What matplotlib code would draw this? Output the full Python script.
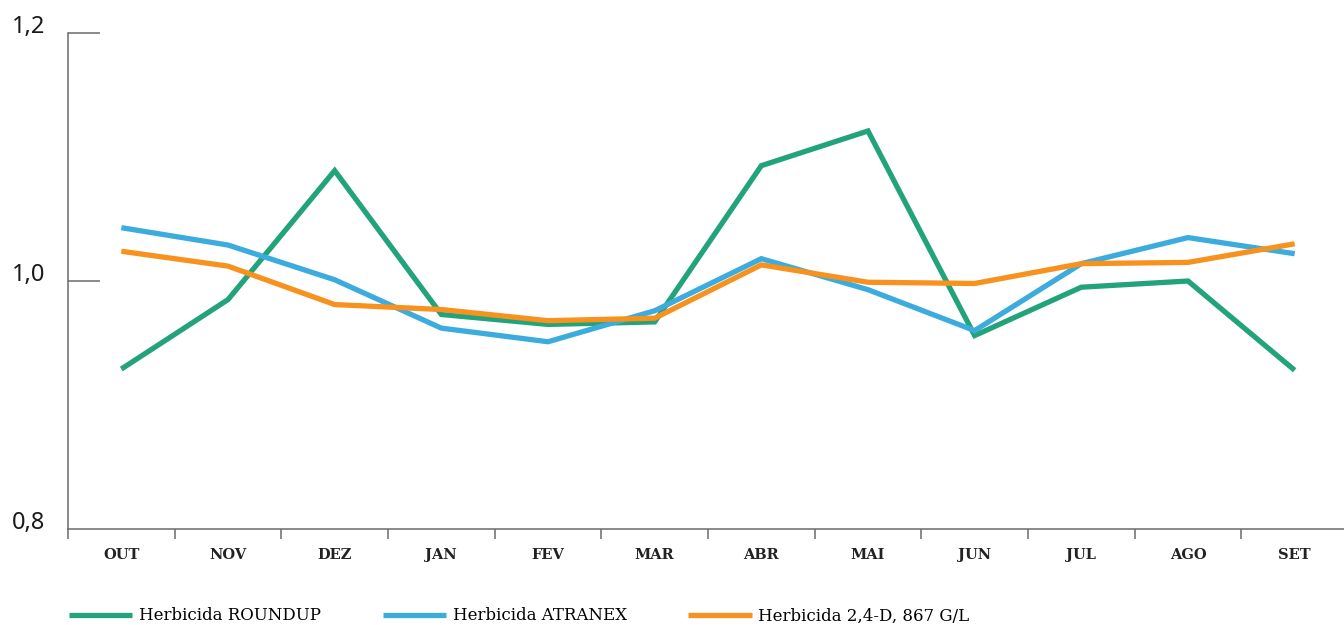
import numpy as np
import matplotlib
matplotlib.use("Agg")
import matplotlib.pyplot as plt

months = ["OUT", "NOV", "DEZ", "JAN", "FEV", "MAR", "ABR", "MAI", "JUN", "JUL", "AGO", "SET"]

roundup = [0.929, 0.985, 1.089, 0.973, 0.965, 0.967, 1.093, 1.121, 0.956, 0.995, 1.000, 0.928]
atranex = [1.043, 1.029, 1.001, 0.962, 0.951, 0.976, 1.018, 0.993, 0.960, 1.014, 1.035, 1.022]
d24 = [1.024, 1.012, 0.981, 0.977, 0.968, 0.970, 1.013, 0.999, 0.998, 1.014, 1.015, 1.030]

series = [
    ("Herbicida ROUNDUP", roundup, "#22A37C"),
    ("Herbicida ATRANEX", atranex, "#3BACDD"),
    ("Herbicida 2,4-D, 867 G/L", d24, "#F7921E"),
]

fig = plt.figure(figsize=(13.44, 6.25), dpi=100)
ax = fig.add_axes([68 / 1344, 96 / 625, 1280 / 1344, 496 / 625])

x = np.arange(len(months))
for label, vals, color in series:
    ax.plot(x, vals, color=color, lw=3.8, label=label, solid_capstyle="butt",
            solid_joinstyle="miter")

ax.set_xlim(-0.5, len(months) - 0.5)
ax.set_ylim(0.8, 1.2)

spine_col = "#6b6b6b"
for s in ["top", "right"]:
    ax.spines[s].set_visible(False)
for s in ["left", "bottom"]:
    ax.spines[s].set_color(spine_col)
    ax.spines[s].set_linewidth(1.1)

# x: ticks at band edges, labels at centres
ax.set_xticks(np.arange(-0.5, len(months), 1.0))
ax.set_xticklabels([])
ax.set_xticks(x, minor=True)
ax.set_xticklabels(months, minor=True, fontfamily="DejaVu Serif",
                   fontweight="bold", fontsize=10.5, color="#222222")
ax.tick_params(axis="x", which="major", direction="out", length=7, width=1.1,
               color=spine_col)
ax.tick_params(axis="x", which="minor", length=0, pad=14)

ax.set_yticks([1.0, 1.2])
ax.set_yticklabels(["1,0", "1,2"], fontfamily="Noto Sans", fontsize=17,
                   color="#1a1a1a")
for t in ax.get_yticklabels():
    t.set_verticalalignment("baseline")
ax.tick_params(axis="y", direction="in", length=23, width=1.1, color=spine_col,
               pad=16)
ax.text(-23 / 1280, 0.8, "0,8", transform=ax.get_yaxis_transform(), ha="right",
        va="baseline", fontfamily="Noto Sans", fontsize=17, color="#1a1a1a")

fig.legend(loc="center left", bbox_to_anchor=(54 / 1344, 9 / 625), ncol=3,
           frameon=False, handlelength=3.8, handletextpad=0.4,
           columnspacing=3.7, prop={"family": "DejaVu Serif", "size": 12})

fig.savefig("out.png", dpi=100)
